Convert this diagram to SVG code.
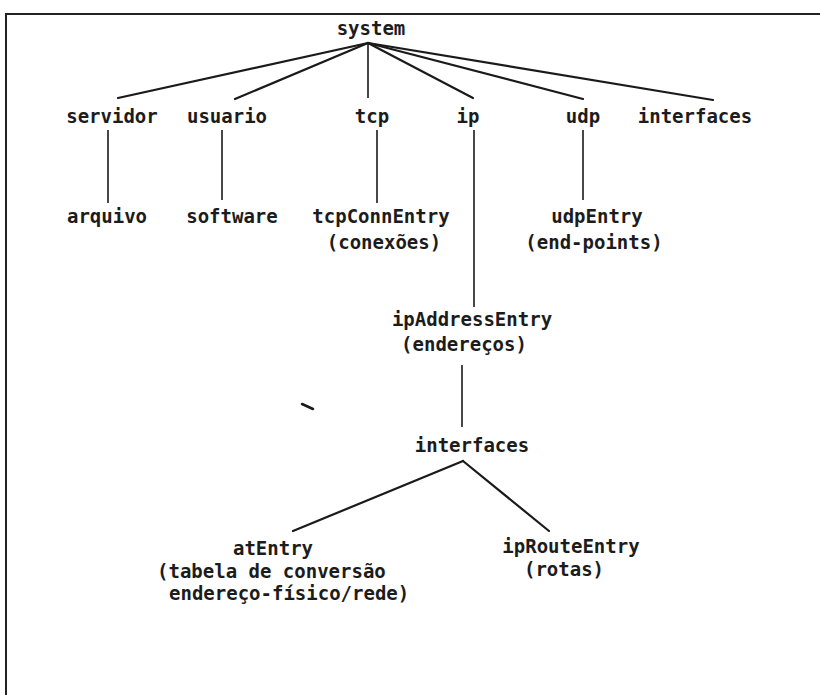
<svg xmlns="http://www.w3.org/2000/svg" width="820" height="695" viewBox="0 0 820 695">
  <style>
    .lbl { font-family: "DejaVu Sans Mono", "Liberation Mono", monospace; font-size: 19px; font-weight: bold; fill: #1c1c1c; text-anchor: middle; }
    .st { text-anchor: start; }
    .edge { stroke: #1a1a1a; stroke-width: 2.2; fill: none; stroke-linecap: round; }
    .vert { stroke: #1a1a1a; stroke-width: 1.6; fill: none; }
    .frame { stroke: #222; stroke-width: 2; fill: none; }
  </style>
  <rect width="820" height="695" fill="#ffffff"/>

  <!-- open frame: top and left rules -->
  <path class="frame" d="M6 695 V14 H820"/>

  <g id="connectors">
    <!-- system fan-out -->
    <line class="edge" x1="368" y1="43" x2="118" y2="98"/>
    <line class="edge" x1="368" y1="43" x2="235" y2="99"/>
    <line class="vert" x1="368" y1="43" x2="368" y2="98"/>
    <line class="edge" x1="368" y1="43" x2="473" y2="98"/>
    <line class="edge" x1="368" y1="43" x2="583" y2="99"/>
    <line class="edge" x1="368" y1="43" x2="713" y2="100"/>
    <!-- second level -->
    <line class="vert" x1="108" y1="130" x2="108" y2="203"/>
    <line class="vert" x1="222" y1="130" x2="222" y2="200"/>
    <line class="vert" x1="377" y1="130" x2="377" y2="203"/>
    <line class="vert" x1="474" y1="130" x2="474" y2="307"/>
    <line class="vert" x1="583" y1="130" x2="583" y2="200"/>
    <!-- ip branch -->
    <line class="vert" x1="462" y1="365" x2="462" y2="427"/>
    <line class="edge" x1="463" y1="461" x2="293" y2="531"/>
    <line class="edge" x1="463" y1="461" x2="549" y2="531"/>
  </g>

  <!-- small stray pen mark -->
  <line x1="302" y1="404" x2="313" y2="409" stroke="#1a1a1a" stroke-width="2.5" stroke-linecap="round"/>

  <g id="system"><text class="lbl" x="371" y="35">system</text></g>
  <g id="servidor"><text class="lbl" x="112" y="123">servidor</text></g>
  <g id="usuario"><text class="lbl" x="227" y="123">usuario</text></g>
  <g id="tcp"><text class="lbl" x="372" y="123">tcp</text></g>
  <g id="ip"><text class="lbl" x="468" y="123">ip</text></g>
  <g id="udp"><text class="lbl" x="583" y="123">udp</text></g>
  <g id="interfaces-top"><text class="lbl" x="695" y="123">interfaces</text></g>

  <g id="arquivo"><text class="lbl" x="107" y="223">arquivo</text></g>
  <g id="software"><text class="lbl" x="232" y="223">software</text></g>
  <g id="tcpConnEntry">
    <text class="lbl" x="381" y="223">tcpConnEntry</text>
    <text class="lbl" x="384" y="249">(conexões)</text>
  </g>
  <g id="udpEntry">
    <text class="lbl" x="597" y="223">udpEntry</text>
    <text class="lbl" x="594" y="249">(end-points)</text>
  </g>

  <g id="ipAddressEntry">
    <text class="lbl" x="472" y="326">ipAddressEntry</text>
    <text class="lbl" x="464" y="351">(endereços)</text>
  </g>
  <g id="interfaces"><text class="lbl" x="472" y="452">interfaces</text></g>

  <g id="atEntry">
    <text class="lbl" x="273" y="555">atEntry</text>
    <text class="lbl st" x="157" y="578">(tabela de conversão</text>
    <text class="lbl st" x="169" y="600">endereço-físico/rede)</text>
  </g>
  <g id="ipRouteEntry">
    <text class="lbl" x="571" y="553">ipRouteEntry</text>
    <text class="lbl" x="564" y="576">(rotas)</text>
  </g>
</svg>
